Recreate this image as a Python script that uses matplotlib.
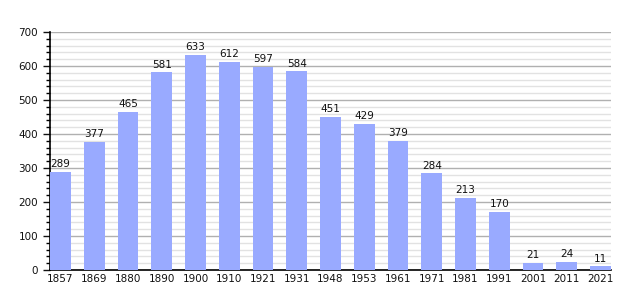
import matplotlib
matplotlib.use("Agg")
import matplotlib.pyplot as plt
from matplotlib.ticker import MultipleLocator

years = ["1857", "1869", "1880", "1890", "1900", "1910", "1921", "1931", "1948",
         "1953", "1961", "1971", "1981", "1991", "2001", "2011", "2021"]
population = [289, 377, 465, 581, 633, 612, 597, 584, 451, 429, 379, 284, 213, 170, 21, 24, 11]

fig = plt.figure(figsize=(6.4, 3.0), dpi=100)
ax = fig.add_axes([50/640, 30/300, 561/640, 238/300])

x = list(range(len(years)))
w = 0.62
bars = ax.bar(x, population, width=w, color="#99aaff", zorder=3)
for xi, v in zip(x, population):
    ax.text(xi, v + 8, str(v), ha="center", va="bottom", fontsize=7.5, color="#111111", zorder=4)

ax.set_xlim(-w/2, len(years) - 1 + w/2)
ax.set_ylim(0, 700)
ax.yaxis.set_major_locator(MultipleLocator(100))
ax.yaxis.set_minor_locator(MultipleLocator(20))
ax.set_xticks(x)
ax.set_xticklabels(years)
ax.tick_params(axis="both", labelsize=7.5, colors="#111111")
ax.tick_params(axis="x", length=0, pad=3)
ax.tick_params(axis="y", which="major", length=5, width=1)
ax.tick_params(axis="y", which="minor", length=3, width=1)
ax.grid(axis="y", which="major", color="#b0b0b0", linewidth=1, zorder=0)
ax.grid(axis="y", which="minor", color="#e2e2e2", linewidth=1, zorder=0)
for s in ["top", "right"]:
    ax.spines[s].set_visible(False)
ax.spines["left"].set_linewidth(1.2)
ax.spines["bottom"].set_linewidth(1.2)
ax.set_axisbelow(True)

fig.savefig("out.png", dpi=100)
